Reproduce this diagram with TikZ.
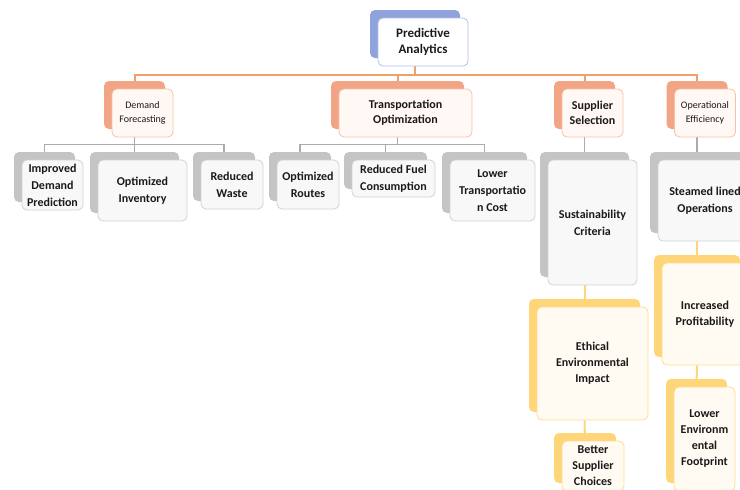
\documentclass[tikz,border=0pt]{standalone}
\usepackage{fontspec}
\setmainfont{Carlito}
\usepackage{tikz}
\usetikzlibrary{shadows,backgrounds}

\definecolor{txt}{HTML}{1A1A1A}
\definecolor{rootback}{HTML}{8FA2DC}
\definecolor{rootline}{HTML}{AFC0EE}
\definecolor{orgback}{HTML}{F2A585}
\definecolor{orgline}{HTML}{F6C2A6}
\definecolor{orgfill}{HTML}{FFF8F4}
\definecolor{orgwire}{HTML}{F2A06A}
\definecolor{gryback}{HTML}{C4C4C4}
\definecolor{gryline}{HTML}{D2D2D2}
\definecolor{gryfill}{HTML}{F8F8F8}
\definecolor{grywire}{HTML}{ABABAB}
\definecolor{ylwback}{HTML}{FFD57A}
\definecolor{ylwline}{HTML}{FFDB8E}
\definecolor{ylwfill}{HTML}{FFFBF2}

\tikzset{
  card/.style={rectangle, rounded corners=5pt, align=center, inner sep=0pt, text=txt, line width=.8pt},
  rootcard/.style={card, draw=rootline, fill=white, font=\fontsize{13}{16}\selectfont\bfseries,
    copy shadow={shadow xshift=-8pt, shadow yshift=8pt, draw=none, fill=rootback}},
  orgcard/.style={card, draw=orgline, fill=orgfill, font=\fontsize{12}{15}\selectfont\bfseries,
    copy shadow={shadow xshift=-8pt, shadow yshift=8pt, draw=none, fill=orgback}},
  orgsmall/.style={orgcard, font=\fontsize{10}{14}\selectfont},
  grycard/.style={card, draw=gryline, fill=gryfill, font=\fontsize{12}{17}\selectfont\bfseries,
    copy shadow={shadow xshift=-8pt, shadow yshift=8pt, draw=none, fill=gryback}},
  ylwcard/.style={card, draw=ylwline, fill=ylwfill, font=\fontsize{12}{16}\selectfont\bfseries,
    copy shadow={shadow xshift=-8pt, shadow yshift=8pt, draw=none, fill=ylwback}},
  wire1/.style={draw=orgwire, line width=2pt},
  wire2/.style={draw=grywire, line width=1.8pt},
  wire3/.style={draw=ylwback, line width=2pt},
}

\begin{document}
\begin{tikzpicture}[x=1pt, y=-1pt]
  \useasboundingbox (0,0) rectangle (740,490);
  \clip (0,0) rectangle (740,490);

  % top
  \node[rootcard, minimum width=90pt, minimum height=48pt] (root) at (423,42) {Predictive\\Analytics};

  % second row
  \node[orgsmall, minimum width=61pt, minimum height=48pt] (dem) at (142.5,113) {Demand\\Forecasting};
  \node[orgcard, minimum width=133pt, minimum height=48pt] (trans) at (405.5,113) {Transportation\\Optimization};
  \node[orgcard, minimum width=61pt, minimum height=48pt] (sup) at (592.5,113) {Supplier\\Selection};
  \node[orgsmall, minimum width=61pt, minimum height=48pt] (ops) at (705,113) {Operational\\Efficiency};

  % third row
  \node[grycard, minimum width=61pt, minimum height=50pt] (imp) at (52.5,185) {Improved\\Demand\\Prediction};
  \node[grycard, minimum width=89pt, minimum height=61pt] (inv) at (142.5,190.5) {Optimized\\Inventory};
  \node[grycard, minimum width=62pt, minimum height=49pt] (was) at (232,184.5) {Reduced\\Waste};
  \node[grycard, minimum width=62pt, minimum height=49pt] (rou) at (308,184.5) {Optimized\\Routes};
  \node[grycard, minimum width=83pt, minimum height=37pt] (fue) at (393.5,178.5) {Reduced Fuel\\Consumption};
  \node[grycard, minimum width=85pt, minimum height=61pt] (ltc) at (492.5,190.5) {Lower\\Transportatio\\n Cost};
  \node[grycard, minimum width=89pt, minimum height=125pt] (sus) at (592.5,222.5) {Sustainability\\Criteria};
  \node[grycard, minimum width=94pt, minimum height=81pt] (stm) at (705,200.5) {Steamed lined\\Operations};

  % lower cards
  \node[ylwcard, minimum width=111pt, minimum height=113pt] (eth) at (592.5,363.5) {Ethical\\Environmental\\Impact};
  \node[ylwcard, minimum width=62pt, minimum height=50pt] (bet) at (593,466) {Better\\Supplier\\Choices};
  \node[ylwcard, minimum width=86pt, minimum height=102pt] (pro) at (705,314) {Increased\\Profitability};
  \node[ylwcard, minimum width=61pt, minimum height=104pt] (low) at (704.5,439) {Lower\\Environm\\ental\\Footprint};

  \begin{scope}[on background layer]
    \foreach \n in {dem,trans,sup,ops}
      \draw[wire1] ([xshift=-8pt]root.south) -- ++(0,9) -| ([xshift=-8pt]\n.north);
    \foreach \n in {imp,inv,was}
      \draw[wire2] ([xshift=-8pt]dem.south) -- ++(0,7) -| ([xshift=-8pt]\n.north);
    \foreach \n in {rou,fue,ltc}
      \draw[wire2] ([xshift=-8pt]trans.south) -- ++(0,7) -| ([xshift=-8pt]\n.north);
    \draw[wire2] ([xshift=-8pt]sup.south) -- ([xshift=-8pt]sus.north);
    \draw[wire2] ([xshift=-8pt]ops.south) -- ([xshift=-8pt]stm.north);
    \draw[wire3] ([xshift=-8pt]sus.south) -- ([xshift=-8pt]eth.north);
    \draw[wire3] ([xshift=-8pt]eth.south) -- ([xshift=-8pt]bet.north);
    \draw[wire3] ([xshift=-8pt]stm.south) -- ([xshift=-8pt]pro.north);
    \draw[wire3] ([xshift=-8pt]pro.south) -- ([xshift=-8pt]low.north);
  \end{scope}
\end{tikzpicture}
\end{document}
